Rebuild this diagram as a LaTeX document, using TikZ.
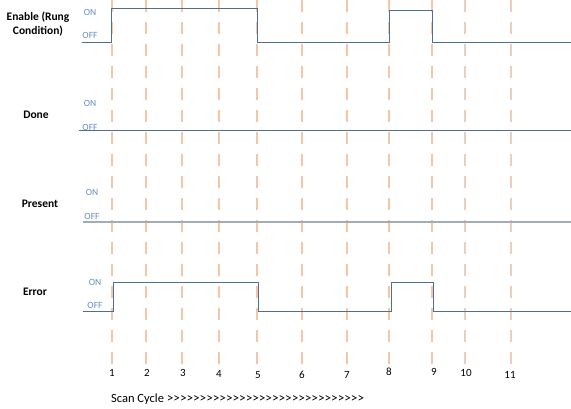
\documentclass[tikz,border=0pt]{standalone}
\usepackage{fontspec}
\setmainfont{Carlito}
\definecolor{dashc}{RGB}{244,198,168}
\definecolor{dashc2}{RGB}{234,206,190}
\definecolor{sigc}{RGB}{78,110,148}
\definecolor{presc}{RGB}{160,172,184}
\definecolor{onoff}{RGB}{100,140,190}
\def\gfive{>\kern0pt>\kern0pt>\kern0pt>\kern0pt>\kern0pt}
\begin{document}
\begin{tikzpicture}[x=1pt,y=-1pt,
  scandash/.style={draw=dashc,line width=2.5pt,dash pattern=on 12pt off 10pt},
  scandashb/.style={draw=dashc2,line width=2.5pt,dash pattern=on 12pt off 10pt},
  sig/.style={draw=sigc,line width=1pt},
  pres/.style={draw=presc,line width=1.8pt},
  lvl/.style={text=onoff,font=\fontsize{9.5}{10}\selectfont,inner sep=0pt},
  rowlab/.style={font=\fontsize{11.5}{14}\selectfont\bfseries,inner sep=0pt,align=center},
  num/.style={font=\fontsize{11}{12}\selectfont,inner sep=0pt}]
\useasboundingbox (0,0) rectangle (571,409);
% scan cycle dashed lines
\foreach \n/\x in {1/112,2/146,3/182,4/219,5/257,6/302,7/347,8/389,9/432}{
  \coordinate (t\n) at (\x,0);
  \coordinate (b\n) at (\x,365);
  \draw[scandash] (t\n) -- (b\n);
}
\foreach \n/\x in {10/465,11/511}{
  \coordinate (t\n) at (\x,0);
  \coordinate (b\n) at (\x,365);
  \draw[scandashb] (t\n) -- (b\n);
}
% numbers
\foreach \n/\x/\y in {1/112/373,2/147/373,3/183/373,4/219/374,5/258/375,6/302/375,7/347/375,8/389/372,9/434/372,10/466/373,11/510/375}{
  \node[num] (n\n) at (\x,\y) {\n};
}
% row labels
\node[rowlab] (enable) at (38,24) {Enable (Rung\\Condition)};
\node[rowlab] (done) at (36,115) {Done};
\node[rowlab] (present) at (40,204) {Present};
\node[rowlab] (error) at (35,292) {Error};
% ON / OFF labels
\node[lvl] (en-on) at (90,12) {ON};
\node[lvl] (en-off) at (90,35) {OFF};
\node[lvl] (do-on) at (90,103) {ON};
\node[lvl] (do-off) at (90,127) {OFF};
\node[lvl] (pr-on) at (92,192) {ON};
\node[lvl] (pr-off) at (92,216) {OFF};
\node[lvl] (er-on) at (95,282) {ON};
\node[lvl] (er-off) at (95,305) {OFF};
% signals
\draw[sig] (82,43) -- (111,43) -- (111,9) -- (257,9) -- (257,43) -- (389,43) -- (389,11) -- (432,11) -- (432,43) -- (571,43);
\draw[sig] (79,131) -- (571,131);
\draw[pres] (83,222) -- (571,222);
\draw[sig] (83,311) -- (113,311) -- (113,282) -- (258,282) -- (258,311) -- (391,311) -- (391,282) -- (433,282) -- (433,311) -- (571,311);
% scan cycle caption
\node[font=\fontsize{12.5}{14}\selectfont,inner sep=0pt,anchor=west] (scan) at (111,399) {Scan Cycle {\fontsize{13.2}{14}\selectfont\gfive\gfive\gfive\gfive\gfive\gfive}};
\end{tikzpicture}
\end{document}
